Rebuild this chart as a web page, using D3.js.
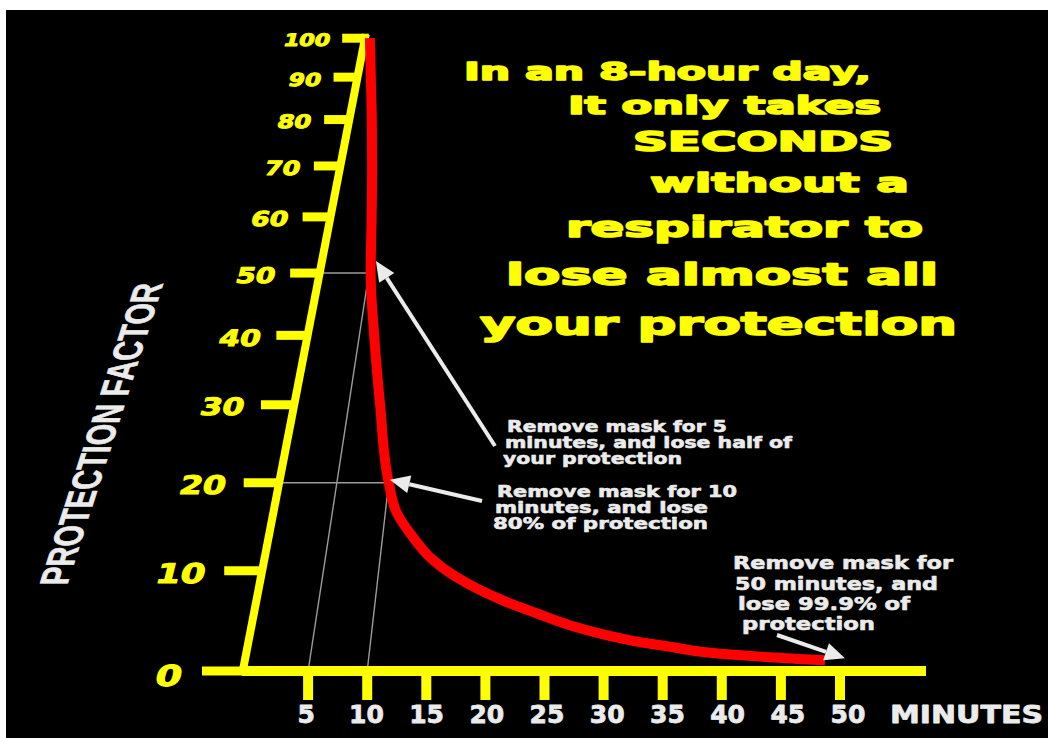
<!DOCTYPE html>
<html>
<head>
<meta charset="utf-8">
<script src="https://cdn.jsdelivr.net/npm/d3@7/dist/d3.min.js"></script>
<style>
  html, body { margin: 0; padding: 0; background: #fff; overflow: hidden; }
  svg { display: block; }
</style>
</head>
<body>
<svg id="chart"></svg>
<script>
//данные графика
const pfTicks = [0, 10, 20, 30, 40, 50, 60, 70, 80, 90, 100];
const minuteTicks = [5, 10, 15, 20, 25, 30, 35, 40, 45, 50];

//кривая: минуты без маски -> фактор защиты
const curveMinutes = [0, 1.15, 2.3, 3.35, 4.3, 5.2, 6.6, 8.2, 10, 11.1, 12.8, 14.5, 17.1, 21.3, 24.3, 27.2, 30.1, 33, 35.8, 38.6, 41.5, 44.2, 47, 48.9];
const curvePF = [100, 90, 80, 70, 60, 50, 40, 30, 20, 16.4, 13.7, 11.5, 9.3, 6.9, 5.6, 4.4, 3.5, 2.8, 2.3, 1.8, 1.5, 1.3, 1.1, 1.0];

//вспомогательные линии
const guideMinutes = [5, 10];
const guidePF = [50, 20];

//тексты
const titleLines = ["In an 8-hour day,", "It only takes", "SECONDS", "without a", "respirator to", "lose almost all", "your protection"];
const noteLines = [
  ["Remove mask for 5", "minutes, and lose half of", "your protection"],
  ["Remove mask for 10", "minutes, and lose", "80% of protection"],
  ["Remove mask for", "50 minutes, and", "lose 99.9% of", "protection"]
];
const noteMinutes = [5, 10, 50];
const notePF = [50, 20, 1];
const yTitle = "PROTECTION FACTOR";
const xTitle = "MINUTES";

const W = 1048, H = 738;
const yellow = "#ffff00", red = "#ff0000", white = "#ebebeb";
const font = "'DejaVu Sans', 'Liberation Sans', sans-serif";

const svg = d3.select("#chart").attr("width", W).attr("height", H);

//фон
svg.append("rect").attr("width", W).attr("height", H).attr("fill", "#fff");
svg.append("rect").attr("x", 6).attr("y", 10).attr("width", W - 6).attr("height", H - 10).attr("fill", "#000");

//шкала минут (передний край плоскости)
const x = d3.scaleLinear().domain([0, 50]).range([249, 840]);
const xLab = d3.scaleLinear().domain([0, 50]).range([246, 848]);

//перспектива: плоскость графика наклонена и уходит к точке схода
const ground = 671;
const vanish = [544, ground - 1544];
const depth = v => v / (v + 144);
const proj = (m, v) => d3.interpolate([x(m), ground], vanish)(depth(v));
const mAxis = x.invert(242);

//жирный текст: обводка тем же цветом
const heavy = (sel, color, w) => sel
  .style("fill", color)
  .style("stroke", color)
  .style("stroke-width", w)
  .style("stroke-linejoin", "round");

//вспомогательные серые линии
guideMinutes.forEach((m, i) => {
  const a = proj(mAxis, guidePF[i]), b = proj(m, guidePF[i]), c = proj(m, 0);
  svg.append("line")
    .attr("x1", a[0]).attr("y1", a[1]).attr("x2", b[0]).attr("y2", b[1])
    .attr("stroke", "#9c9c9c").attr("stroke-width", 1.4);
  svg.append("line")
    .attr("x1", c[0]).attr("y1", c[1]).attr("x2", b[0]).attr("y2", b[1])
    .attr("stroke", "#9c9c9c").attr("stroke-width", 1.4);
});

//ось x
svg.append("line")
  .attr("x1", x(mAxis)).attr("y1", ground).attr("x2", 926).attr("y2", ground)
  .attr("stroke", yellow).attr("stroke-width", 10);

svg.selectAll(".xtick")
  .data(minuteTicks)
  .enter()
  .append("line")
  .attr("class", "xtick")
  .attr("x1", d => x(d)).attr("x2", d => x(d))
  .attr("y1", ground).attr("y2", ground + 29)
  .attr("stroke", yellow).attr("stroke-width", 10);

svg.selectAll(".xlabel")
  .data(minuteTicks)
  .enter()
  .append("text")
  .attr("class", "xlabel")
  .attr("x", d => xLab(d))
  .attr("y", 723)
  .attr("text-anchor", "middle")
  .style("font-family", font)
  .style("font-weight", "bold")
  .style("font-size", "25px")
  .call(heavy, white, 0.8)
  .text(d => d);

svg.append("text")
  .attr("x", 890).attr("y", 723)
  .attr("textLength", 153).attr("lengthAdjust", "spacingAndGlyphs")
  .style("font-family", font)
  .style("font-weight", "bold")
  .style("font-size", "25px")
  .call(heavy, white, 0.8)
  .text(xTitle);

//ось y (наклонная)
const yBottom = proj(mAxis, 0), yTop = proj(mAxis, 100);
svg.append("line")
  .attr("x1", yBottom[0]).attr("y1", yBottom[1] + 4).attr("x2", yTop[0]).attr("y2", yTop[1] - 4)
  .attr("stroke", yellow).attr("stroke-width", 8);

pfTicks.forEach(v => {
  const p = proj(mAxis, v);
  const s = 1 - depth(v);
  const len = 40 * s;
  svg.append("line")
    .attr("x1", p[0] - len).attr("x2", v === 100 ? p[0] + 3 : p[0])
    .attr("y1", p[1]).attr("y2", p[1])
    .attr("stroke", yellow).attr("stroke-width", 9);
  svg.append("text")
    .attr("transform", `translate(${p[0] - len - 20 * s},${p[1] + (v === 0 ? 5 : 2)}) skewX(-14) scale(1.3,1)`)
    .attr("text-anchor", "end")
    .attr("dy", "0.36em")
    .style("font-family", font)
    .style("font-weight", "bold")
    .style("font-size", (29 * s) + "px")
    .call(heavy, yellow, 1)
    .text(v);
});

//подпись оси y
svg.append("text")
  .attr("transform", "translate(67,585) skewX(-17.7) rotate(-90)")
  .attr("textLength", 302).attr("lengthAdjust", "spacingAndGlyphs")
  .style("font-family", "'Liberation Sans Narrow', 'Liberation Sans', sans-serif")
  .style("font-weight", "bold")
  .style("font-size", "40px")
  .call(heavy, white, 0.8)
  .text(yTitle);

//красная кривая
const line = d3.line().curve(d3.curveMonotoneY);
svg.append("path")
  .attr("d", line(curveMinutes.map((m, i) => proj(m, curvePF[i]))))
  .attr("fill", "none")
  .attr("stroke", red)
  .attr("stroke-width", 10);

//заголовок
const titleLayout = [
  [464, 871, 80, 25], [568, 881, 114, 25], [633, 893, 151, 26], [650, 909, 192, 27],
  [566, 923, 237, 28], [506, 938, 285, 30], [480, 957, 335, 32]
];
titleLines.forEach((t, i) => {
  const [x0, x1, yb, fs] = titleLayout[i];
  svg.append("text")
    .attr("x", x0).attr("y", yb)
    .attr("textLength", x1 - x0).attr("lengthAdjust", "spacingAndGlyphs")
    .style("font-family", font)
    .style("font-weight", "bold")
    .style("font-size", fs + "px")
    .call(heavy, yellow, 1.6)
    .text(t);
});

//пояснения со стрелками
const noteLayout = [
  { x: [507, 505, 503], x1: [727, 792, 682], y: [432, 448, 464], fs: 15, tail: [495, 446], off: [7, -12] },
  { x: [497, 495, 493], x1: [737, 708, 708], y: [497, 513, 529], fs: 15, tail: [482, 501], off: [1, -3] },
  { x: [733, 735, 738, 742], x1: [953, 938, 910, 875], y: [569, 590, 610, 630], fs: 17, tail: [777, 635], off: [7, -2] }
];
noteLines.forEach((lines, i) => {
  const L = noteLayout[i];
  lines.forEach((t, j) => {
    svg.append("text")
      .attr("x", L.x[j]).attr("y", L.y[j])
      .attr("textLength", L.x1[j] - L.x[j]).attr("lengthAdjust", "spacingAndGlyphs")
      .style("font-family", font)
      .style("font-weight", "bold")
      .style("font-size", L.fs + "px")
      .call(heavy, white, 0.6)
      .text(t);
  });
  //стрелка
  const p = proj(noteMinutes[i], notePF[i]);
  const tip = [p[0] + L.off[0], p[1] + L.off[1]];
  const dx = tip[0] - L.tail[0], dy = tip[1] - L.tail[1];
  const d = Math.hypot(dx, dy), ux = dx / d, uy = dy / d;
  const hl = 20, hw = 9;
  const base = [tip[0] - ux * hl, tip[1] - uy * hl];
  svg.append("line")
    .attr("x1", L.tail[0]).attr("y1", L.tail[1]).attr("x2", base[0]).attr("y2", base[1])
    .attr("stroke", white).attr("stroke-width", 4);
  svg.append("path")
    .attr("d", `M${tip[0]},${tip[1]}L${base[0] - uy * hw},${base[1] + ux * hw}L${base[0] + uy * hw},${base[1] - ux * hw}Z`)
    .attr("fill", white);
});
</script>
</body>
</html>
